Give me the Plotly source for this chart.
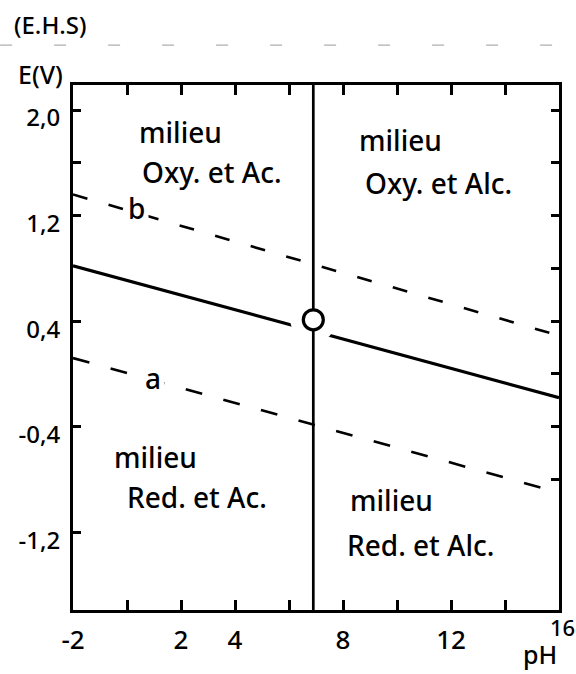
import plotly.graph_objects as go

# --- data -------------------------------------------------------------
ph_ends = [-2, 16]                 # pH span of the boundary lines
e_solid = [0.82, -0.18]            # redox couple line (V)
e_line_a = [0.12, -0.90]           # water reduction line "a"
e_line_b = [1.36, 0.29]            # water oxidation line "b"

ph_neutral = 6.9                   # neutral pH boundary
point_ph = [6.9]
point_e = [0.41]

ph_range = [-2, 16]
e_range = [-1.79, 2.19]

x_tickvals = [-2, 0, 2, 4, 6, 8, 10, 12, 14, 16]
x_ticktext = ["-2", "", "2", "4", "", "8", "", "12", "", ""]
y_tickvals = [2.0, 1.6, 1.2, 0.4, -0.4, -1.2]
y_ticktext = ["2,0", "", "1,2", "0,4", "-0,4", "-1,2"]
y_right_tickvals = [2.0, 1.6, 1.2, 0.8, 0.4, 0.0, -0.4, -0.8]

# region labels: (pH of left edge, E, text)
regions = [
    (0.37, 1.83, "milieu"),
    (0.48, 1.53, "Oxy. et Ac."),
    (8.52, 1.77, "milieu"),
    (8.74, 1.45, "Oxy. et Alc."),
    (-0.56, -0.63, "milieu"),
    (-0.07, -0.93, "Red. et Ac."),
    (8.19, -0.955, "milieu"),
    (8.07, -1.295, "Red. et Alc."),
]
line_labels = [(0.37, 1.26, "b"), (0.96, -0.03, "a")]

FONT = "Noto Sans"
INK = "black"

fig = go.Figure()

# dashed water lines
fig.add_trace(go.Scatter(x=ph_ends, y=e_line_b, mode="lines",
                         line=dict(color=INK, width=2.6, dash="15px,22px"),
                         hoverinfo="skip", showlegend=False))
fig.add_trace(go.Scatter(x=ph_ends, y=e_line_a, mode="lines",
                         line=dict(color=INK, width=2.6, dash="17px,22px"),
                         hoverinfo="skip", showlegend=False))
# solid couple line
fig.add_trace(go.Scatter(x=ph_ends, y=e_solid, mode="lines",
                         line=dict(color=INK, width=3.2),
                         hoverinfo="skip", showlegend=False))
# white gap around the intersection point
fig.add_trace(go.Scatter(x=point_ph, y=point_e, mode="markers",
                         marker=dict(size=46, color="white", line=dict(width=0)),
                         hoverinfo="skip", showlegend=False))
# neutral pH vertical
fig.add_trace(go.Scatter(x=[ph_neutral, ph_neutral], y=e_range, mode="lines",
                         line=dict(color=INK, width=2.7),
                         hoverinfo="skip", showlegend=False))
# open circle
fig.add_trace(go.Scatter(x=point_ph, y=point_e, mode="markers",
                         marker=dict(size=20, color="white",
                                     line=dict(color=INK, width=3.2)),
                         hoverinfo="skip", showlegend=False))
# carrier for the right-hand tick axis
fig.add_trace(go.Scatter(x=[None], y=[None], yaxis="y2", mode="lines",
                         hoverinfo="skip", showlegend=False))

annotations = []
for ph, e, txt in regions:
    annotations.append(dict(x=ph, y=e, xref="x", yref="y", text=txt,
                            showarrow=False, xanchor="left", yanchor="middle",
                            font=dict(family=FONT, size=28, color=INK,
                                      weight=500)))
for ph, e, txt in line_labels:
    annotations.append(dict(x=ph, y=e, xref="x", yref="y", text=txt,
                            showarrow=False, xanchor="center", yanchor="middle",
                            bgcolor="white", borderpad=3,
                            font=dict(family=FONT, size=28, color=INK,
                                      weight=500)))
annotations += [
    dict(x=-0.047, y=1.116, xref="paper", yref="paper", text="(E.H.S)",
         showarrow=False, xanchor="center", yanchor="middle",
         font=dict(family=FONT, size=24, color=INK, weight=500)),
    dict(x=-0.066, y=1.02, xref="paper", yref="paper", text="E(V)",
         showarrow=False, xanchor="center", yanchor="middle",
         font=dict(family=FONT, size=25, color=INK, weight=500)),
    dict(x=0.961, y=-0.083, xref="paper", yref="paper", text="pH",
         showarrow=False, xanchor="center", yanchor="middle",
         font=dict(family=FONT, size=25, color=INK, weight=500)),
    dict(x=1.008, y=-0.032, xref="paper", yref="paper", text="16",
         showarrow=False, xanchor="center", yanchor="middle",
         font=dict(family=FONT, size=22, color=INK, weight=500)),
]

fig.update_layout(
    width=576, height=674,
    margin=dict(l=73, r=17, t=85, b=64),
    paper_bgcolor="white", plot_bgcolor="white",
    showlegend=False,
    annotations=annotations,
    shapes=[dict(type="line", xref="paper", yref="paper",
                 x0=-0.15, x1=1.035, y0=1.076, y1=1.076,
                 line=dict(color="#b0b0b0", width=1.3, dash="12px,42px"))],
    xaxis=dict(range=ph_range, tickmode="array", tickvals=x_tickvals,
               ticktext=x_ticktext, ticks="inside", ticklen=10, tickwidth=2.5,
               tickcolor=INK, showline=True, linecolor=INK, linewidth=3,
               mirror="ticks", showgrid=False, zeroline=False,
               ticklabelstandoff=5,
               tickfont=dict(family=FONT, size=26, color=INK, weight=500)),
    yaxis=dict(range=e_range, tickmode="array", tickvals=y_tickvals,
               ticktext=y_ticktext, ticks="inside", ticklen=8, tickwidth=2.5,
               tickcolor=INK, showline=True, linecolor=INK, linewidth=3,
               mirror=True, showgrid=False, zeroline=False,
               ticklabelstandoff=5, ticklabelshift=8,
               tickfont=dict(family=FONT, size=24, color=INK, weight=500)),
    yaxis2=dict(range=e_range, overlaying="y", side="right", tickmode="array",
                tickvals=y_right_tickvals, ticks="inside", ticklen=8,
                tickwidth=2.5, tickcolor=INK, showticklabels=False,
                showline=False, showgrid=False, zeroline=False),
)

fig.write_html("out.html")
